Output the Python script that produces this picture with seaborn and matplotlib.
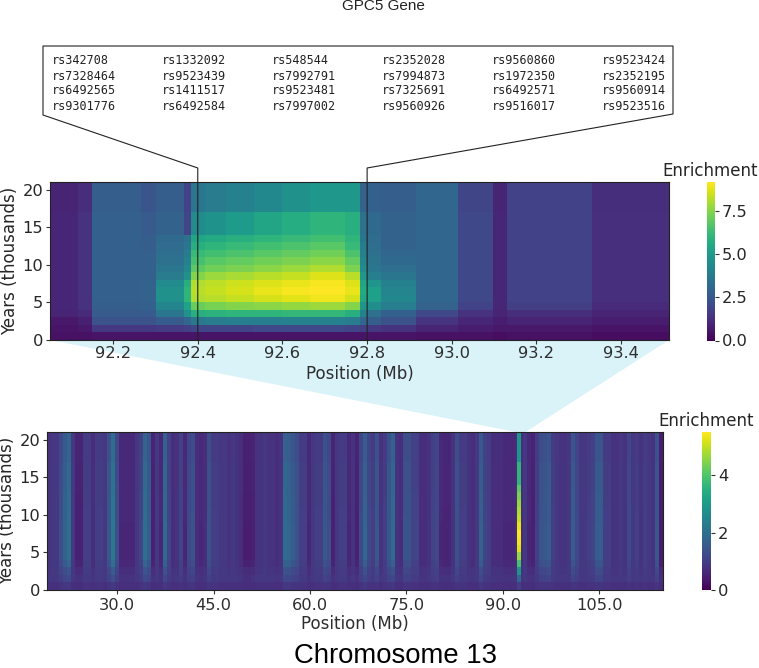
import numpy as np
import matplotlib
matplotlib.use("Agg")
import matplotlib.pyplot as plt
import seaborn as sns
from matplotlib.patches import Polygon
from matplotlib.lines import Line2D
from matplotlib.transforms import Affine2D

sns.set_theme(style="white")
plt.rcParams["font.family"] = "DejaVu Sans"

W, H = 759, 668

snps = [
    ["rs342708", "rs1332092", "rs548544", "rs2352028", "rs9560860", "rs9523424"],
    ["rs7328464", "rs9523439", "rs7992791", "rs7994873", "rs1972350", "rs2352195"],
    ["rs6492565", "rs1411517", "rs9523481", "rs7325691", "rs6492571", "rs9560914"],
    ["rs9301776", "rs6492584", "rs7997002", "rs9560926", "rs9516017", "rs9523516"],
]

# Gene-level map: blocks of equal enrichment along the position axis
block_cells = [4, 2, 7, 2, 4, 1, 2, 3, 4, 4, 4, 5, 2, 1, 2, 5, 6, 5, 2, 12, 11]
gene_rows = {
    0:  [.4, .4, .5, .5, .5, .5, .5, .5, .5, .5, .5, .5, .5, .5, .5, .5, .4, .4, .3, .4, .3],
    1:  [.5, .6, 1.5, 1.5, 1.6, 1.7, 1.9, 1.9, 1.9, 2.0, 2.0, 2.0, 1.9, 1.7, 1.5, 1.3, .9, .7, .6, .6, .5],
    2:  [.6, .8, 2.3, 2.3, 2.6, 3.0, 3.7, 3.8, 3.9, 3.9, 4.0, 4.0, 3.8, 3.0, 2.7, 2.3, 1.4, 1.0, .7, .9, .7],
    3:  [.9, 1.1, 2.6, 2.6, 3.6, 4.6, 5.8, 5.9, 6.0, 6.0, 6.1, 6.1, 5.8, 4.0, 3.4, 2.8, 2.0, 1.3, .9, 1.2, .9],
    4:  [1.0, 1.3, 2.7, 2.8, 4.2, 5.3, 7.1, 7.3, 7.5, 7.6, 7.7, 7.8, 7.5, 4.8, 4.5, 3.9, 2.9, 1.8, 1.0, 1.7, 1.1],
    5:  [1.0, 1.3, 2.8, 2.9, 4.6, 6.0, 8.1, 8.2, 8.4, 8.6, 8.8, 9.0, 8.6, 5.4, 5.2, 4.3, 3.0, 2.0, 1.0, 1.8, 1.25],
    6:  [1.0, 1.3, 2.8, 2.9, 4.6, 6.0, 8.2, 8.4, 8.6, 8.9, 9.1, 9.2, 8.9, 5.6, 5.2, 4.2, 3.0, 2.0, 1.0, 1.8, 1.25],
    7:  [1.0, 1.3, 2.8, 2.9, 4.4, 5.8, 8.1, 8.3, 8.5, 8.7, 8.9, 9.1, 8.7, 5.4, 4.8, 4.0, 3.0, 2.0, 1.0, 1.8, 1.25],
    8:  [1.0, 1.3, 2.8, 2.8, 3.8, 4.6, 7.5, 7.8, 8.0, 8.2, 8.4, 8.7, 8.2, 4.9, 3.9, 3.6, 3.0, 2.0, 1.0, 1.8, 1.25],
    9:  [1.0, 1.3, 2.8, 2.8, 3.6, 4.3, 6.9, 7.2, 7.4, 7.6, 7.8, 8.1, 7.4, 4.4, 3.6, 3.3, 3.0, 2.0, 1.0, 1.8, 1.25],
    10: [1.0, 1.3, 2.8, 2.8, 3.4, 4.0, 6.5, 6.8, 7.0, 7.2, 7.4, 7.6, 7.0, 4.2, 3.5, 3.1, 3.0, 2.0, 1.0, 1.8, 1.25],
    11: [1.0, 1.3, 2.8, 2.8, 3.3, 3.8, 6.2, 6.4, 6.6, 6.8, 7.0, 7.2, 6.6, 4.0, 3.4, 3.0, 3.0, 2.0, 1.0, 1.8, 1.25],
    12: [1.0, 1.3, 2.8, 2.7, 3.2, 3.6, 5.8, 6.0, 6.2, 6.4, 6.6, 6.8, 6.2, 3.8, 3.3, 2.9, 3.0, 2.0, 1.0, 1.8, 1.25],
    13: [1.0, 1.3, 2.8, 2.7, 3.1, 3.4, 5.4, 5.6, 5.8, 6.0, 6.2, 6.4, 6.0, 3.6, 3.2, 2.9, 3.0, 2.0, 1.0, 1.8, 1.25],
    14: [1.0, 1.3, 2.8, 2.6, 2.9, 1.9, 4.4, 4.7, 5.0, 5.4, 5.7, 6.0, 5.8, 3.4, 3.1, 2.9, 3.0, 2.0, 1.0, 1.8, 1.25],
    15: [1.0, 1.3, 2.8, 2.6, 2.9, 1.9, 4.4, 4.7, 5.0, 5.4, 5.7, 6.0, 5.8, 3.4, 3.1, 2.9, 3.0, 2.0, 1.0, 1.8, 1.25],
    16: [1.0, 1.3, 2.8, 2.6, 2.9, 1.9, 4.4, 4.7, 5.0, 5.4, 5.7, 6.0, 5.8, 3.4, 3.1, 2.9, 3.0, 2.0, 1.0, 1.8, 1.25],
    17: [.9, 1.2, 2.7, 2.4, 2.7, 1.8, 3.6, 3.8, 4.0, 4.3, 4.6, 4.9, 4.9, 2.9, 2.8, 2.7, 3.0, 1.9, .9, 1.8, 1.2],
    18: [.9, 1.2, 2.7, 2.4, 2.7, 1.8, 3.6, 3.8, 4.0, 4.3, 4.6, 4.9, 4.9, 2.9, 2.8, 2.7, 3.0, 1.9, .9, 1.8, 1.2],
    19: [.9, 1.2, 2.7, 2.4, 2.7, 1.8, 3.6, 3.8, 4.0, 4.3, 4.6, 4.9, 4.9, 2.9, 2.8, 2.7, 3.0, 1.9, .9, 1.8, 1.2],
    20: [.9, 1.2, 2.7, 2.4, 2.7, 1.8, 3.6, 3.8, 4.0, 4.3, 4.6, 4.9, 4.9, 2.9, 2.8, 2.7, 3.0, 1.9, .9, 1.8, 1.2],
}
gene_xlim = (92.051, 93.513)
gene_ticks = [92.2, 92.4, 92.6, 92.8, 93.0, 93.2, 93.4]
gene_vmax = 9.2

# Chromosome-level map: one enrichment value per stripe, left to right
chrom_stripes = [
    .8, .9, .9, 1.3, 1.7, 2.0, .9, .5, .5, 1.0, 1.0, .7, 1.0, 1.0, .9, 1.5,
    2.2, 1.3, .6, .6, .6, .6, .9, 1.1, 2.0, 1.6, .5, .9, .6, 1.9, 1.1, .7,
    .8, 1.1, .6, 1.2, 1.4, .7, .6, .7, 1.4, 1.0, 1.0, .9, .9, .8, .9, .8,
    .7, .45, .45, .5, .8, .8, .9, .8, .8, .7, .8, 1.9, 1.8, 1.6, 1.4, 1.0,
    1.0, .6, .9, 1.0, 1.0, 1.5, 1.3, .5, .9, 1.0, 1.0, .6, .8, .5, 1.2, 1.8,
    1.2, 1.0, 1.5, .8, 1.0, 1.5, 1.9, .8, .7, 1.4, 1.4, 1.1, 1.1, .7, .7, .8,
    1.1, 1.2, .6, .55, .55, .8, 1.4, 1.0, 1.0, .8, .7, .9, 1.7, 1.1, 1.0, .7,
    .7, .7, .6, .6, .6, .7, .7, .9, .6, .5, 1.0, 1.4, 1.5, 1.6, 1.0, .9,
    .8, .8, .9, 1.6, 1.2, .9, .9, 1.0, 1.1, 1.6, 1.6, 1.0, 1.0, .8, .8, .9,
    .8, 1.2, .9, 1.0, .8, 1.0, .9, .8, 1.5, .4,
]
# Per-time-bin strength of the stripes and the background they fade into
stripe_share = [.12, .3, .5, .85, 1, 1, 1, 1, 1, .97, .96, .95, .94, .92,
                .9, .9, .9, .82, .82, .82, .82]
bin_floor = [.75, .9, .9, .8, .75, .75, .75, .75, .75, .75, .75, .75, .75, .75,
             .75, .75, .75, .75, .75, .75, .75]
# The GPC5 peak stripe read bin by bin, and the half-stripe cells it fills
peak_cells = [235, 236]
peak_bins = [1.0, 1.8, 2.8, 3.9, 4.6, 5.2, 5.4, 5.5, 5.3, 5.0, 4.8, 4.6, 4.4,
             4.1, 3.6, 3.6, 3.6, 2.9, 2.9, 2.9, 2.9]
chrom_xlim = (19.1, 114.9)
chrom_ticks = [30, 45, 60, 75, 90, 105]
chrom_vmax = 5.5

years_ticks = [0, 5, 10, 15, 20]

gene = np.array([np.repeat(gene_rows[r], block_cells) for r in range(21)])
stripes = np.repeat(chrom_stripes, 2)
chrom = np.array([f + (stripes - f) * s for s, f in zip(stripe_share, bin_floor)])
chrom[:, peak_cells] = np.array(peak_bins)[:, None]

fig = plt.figure(figsize=(W / 100, H / 100), dpi=100, facecolor="white")


def box(x0, y0, x1, y1):
    return [x0 / W, 1 - y1 / H, (x1 - x0) / W, (y1 - y0) / H]


px = Affine2D().scale(1 / W, -1 / H).translate(0, 1) + fig.transFigure

ax_gene = fig.add_axes(box(50, 182, 669, 340))
cax_gene = fig.add_axes(box(706.5, 182, 715, 340.5))
ax_chrom = fig.add_axes(box(47, 432, 663, 590))
cax_chrom = fig.add_axes(box(702, 432, 711, 590))

LABEL = 12.0
TICK = 11.7


def draw(ax, cax, data, vmax, xlim, ticks, ticklabels, cbticks, cblabels, cbtitle_xy, xpad, xlabelpad):
    sns.heatmap(data, ax=ax, cbar_ax=cax, cmap="viridis", vmin=0, vmax=vmax,
                xticklabels=False, yticklabels=False,
                cbar_kws={"ticks": cbticks})
    ax.invert_yaxis()
    n = data.shape[1]
    ax.set_xticks([(t - xlim[0]) / (xlim[1] - xlim[0]) * n for t in ticks])
    ax.set_xticklabels(ticklabels, rotation=0, fontsize=TICK, color="#2e2e2e")
    ax.set_yticks(years_ticks)
    ax.set_yticklabels(years_ticks, rotation=0, fontsize=TICK, color="#262626")
    ax.tick_params(axis="both", length=3, width=0.8, color="#333333", pad=2,
                   bottom=True, left=True)
    ax.tick_params(axis="x", pad=xpad)
    ax.set_xlabel("Position (Mb)", fontsize=LABEL, color="#2e2e2e", labelpad=xlabelpad)
    ax.set_ylabel("Years (thousands)", fontsize=LABEL, color="#262626", labelpad=2)
    for s in ax.spines.values():
        s.set_visible(True)
        s.set_linewidth(0.8)
        s.set_color("#222222")
    cax.set_yticklabels(cblabels, fontsize=TICK, color="#262626")
    cax.tick_params(axis="y", length=3, width=0.8, color="#333333", pad=2, right=True)
    fig.text(cbtitle_xy[0] / W, 1 - cbtitle_xy[1] / H, "Enrichment", fontsize=LABEL,
             color="#262626", ha="center", va="center")


draw(ax_gene, cax_gene, gene, gene_vmax, gene_xlim, gene_ticks,
     [f"{t:.1f}" for t in gene_ticks], [0, 2.5, 5, 7.5],
     ["0.0", "2.5", "5.0", "7.5"], (710, 171), 1.5, 3)
draw(ax_chrom, cax_chrom, chrom, chrom_vmax, chrom_xlim, chrom_ticks,
     [f"{t:.1f}" for t in chrom_ticks], [0, 2, 4],
     ["0", "2", "4"], (706, 421), 3, 1)

# Zoom wedge from the gene map down to its place on the chromosome map
fig.canvas.draw()
n_c = chrom.shape[1]
tl = ax_chrom.transData.transform(
    [((gene_xlim[0] - chrom_xlim[0]) / (chrom_xlim[1] - chrom_xlim[0]) * n_c, 21)])[0]
tr = ax_chrom.transData.transform(
    [((gene_xlim[1] - chrom_xlim[0]) / (chrom_xlim[1] - chrom_xlim[0]) * n_c, 21)])[0]
bl = ax_gene.transAxes.transform((0, 0))
br = ax_gene.transAxes.transform((1, 0))
fig.add_artist(Polygon([bl, br, tr, tl], closed=True, transform=None,
                       facecolor="#d9f3f9", edgecolor="none", zorder=-5))
for a in (ax_gene, ax_chrom):
    a.patch.set_alpha(0)

# Callout box with the SNP names, tied to 92.4 and 92.8 Mb
gx = [50 + (v - gene_xlim[0]) / (gene_xlim[1] - gene_xlim[0]) * 619 for v in (92.4, 92.8)]
fig.add_artist(Line2D(
    [gx[0], gx[0], 43, 43, 673, 673, gx[1], gx[1]],
    [340, 168, 115, 46, 46, 114, 168, 340],
    transform=px, color="#222222", lw=0.8, zorder=10))

col_x = [52, 162, 272, 382, 492, 602]
row_y = [61, 76, 91, 106]
for y, row in zip(row_y, snps):
    for x, s in zip(col_x, row):
        fig.text(x / W, 1 - y / H, s, family="DejaVu Sans Mono", fontsize=8.5,
                 color="#222222", ha="left", va="center")

fig.text(383 / W, 1 - 6 / H, "GPC5 Gene", family="Liberation Sans", fontsize=11,
         color="#222222", ha="center", va="center")
fig.text(395 / W, 1 - 656 / H, "Chromosome 13", family="Liberation Sans", fontsize=19.8,
         color="black", ha="center", va="center")

fig.savefig("out.png", dpi=100)
